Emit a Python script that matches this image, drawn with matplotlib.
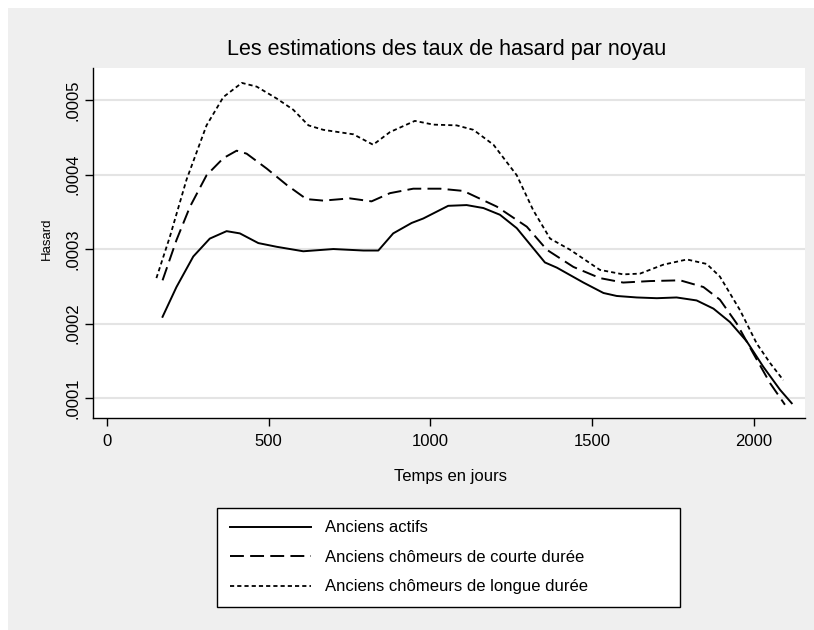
import numpy as np
import matplotlib
matplotlib.use("Agg")
import matplotlib.pyplot as plt
from matplotlib.patches import Rectangle
from matplotlib.ticker import FuncFormatter

plt.rcParams['font.family'] = ['Liberation Sans', 'DejaVu Sans']
plt.rcParams['lines.scale_dashes'] = False

# hazard estimates (x in days, y in 1e-4)
x_actifs = [172, 215, 267, 318, 370, 411, 468, 525, 607, 700, 793, 839, 885, 942, 978,
            1055, 1112, 1164, 1215, 1267, 1318, 1354, 1391, 1473, 1535, 1576, 1638, 1700,
            1761, 1823, 1875, 1926, 1978, 2029, 2081, 2117]
y_actifs = [2.09, 2.49, 2.90, 3.14, 3.24, 3.21, 3.08, 3.03, 2.97, 3.00, 2.98, 2.98, 3.21, 3.35, 3.41,
            3.58, 3.59, 3.55, 3.46, 3.28, 3.01, 2.82, 2.75, 2.55, 2.41, 2.37, 2.35, 2.34,
            2.35, 2.31, 2.20, 2.02, 1.76, 1.42, 1.11, 0.93]

x_courte = [172, 215, 257, 308, 360, 401, 432, 494, 556, 617, 669, 751, 818, 875, 947,
            1030, 1102, 1205, 1298, 1360, 1442, 1524, 1596, 1679, 1772, 1844, 1895, 1947,
            1998, 2050, 2096]
y_courte = [2.58, 3.12, 3.57, 3.99, 4.22, 4.32, 4.28, 4.08, 3.86, 3.67, 3.65, 3.68, 3.64, 3.75, 3.81,
            3.81, 3.78, 3.57, 3.30, 2.99, 2.76, 2.61, 2.55, 2.57, 2.58, 2.49, 2.32, 2.00,
            1.60, 1.20, 0.91]

x_longue = [153, 195, 246, 308, 360, 417, 463, 525, 576, 623, 669, 762, 823, 875, 952,
            1009, 1081, 1133, 1195, 1267, 1318, 1370, 1432, 1524, 1596, 1648, 1720, 1793,
            1854, 1895, 1957, 2009, 2050, 2091]
y_longue = [2.61, 3.17, 3.93, 4.66, 5.04, 5.23, 5.18, 5.02, 4.87, 4.66, 4.60, 4.54, 4.40, 4.57, 4.72,
            4.67, 4.66, 4.60, 4.40, 3.99, 3.52, 3.14, 2.99, 2.72, 2.66, 2.67, 2.79, 2.86,
            2.80, 2.63, 2.18, 1.73, 1.47, 1.24]

labels = ['Anciens actifs', 'Anciens chômeurs de courte durée', 'Anciens chômeurs de longue durée']
x_ticks = [0, 500, 1000, 1500, 2000]
y_ticks = [0.0001, 0.0002, 0.0003, 0.0004, 0.0005]

W, H = 814, 630
fig = plt.figure(figsize=(W / 100, H / 100), dpi=100, facecolor='white')
# stata-like grey graph region
fig.patches.append(Rectangle((8 / W, 0), 1, 1 - 8 / H, transform=fig.transFigure,
                             facecolor='#efefef', edgecolor='none', zorder=-10))

ax = fig.add_axes([93 / W, 1 - 418 / H, (805 - 93) / W, (418 - 68) / H])
ax.set_facecolor('white')

scale = 1e-4
ax.plot(x_actifs, np.array(y_actifs) * scale, color='black', lw=1.4, ls='-', label=labels[0])
ax.plot(x_courte, np.array(y_courte) * scale, color='black', lw=1.4, ls=(0, (10, 4.5)), label=labels[1])
ax.plot(x_longue, np.array(y_longue) * scale, color='black', lw=1.3, ls=(0, (3, 2.2)), label=labels[2])

ax.set_xlim(-43, 2158)
ax.set_ylim(0.0000732, 0.000543)
ax.set_xticks(x_ticks)
ax.set_yticks(y_ticks)
ax.yaxis.set_major_formatter(FuncFormatter(lambda v, p: f"{v:.4f}".lstrip('0')))

ax.yaxis.grid(True, color='#e4e4e4', lw=1.5)
ax.set_axisbelow(True)
for s in ['top', 'right']:
    ax.spines[s].set_visible(False)
for s in ['left', 'bottom']:
    ax.spines[s].set_color('black')
    ax.spines[s].set_linewidth(1.0)

ax.tick_params(axis='both', direction='out', length=5.8, width=1, color='black', labelsize=12)
ax.tick_params(axis='x', pad=5.5)
ax.tick_params(axis='y', pad=3.5, labelrotation=90)
for t in ax.get_yticklabels():
    t.set_va('center')

fig.text(447 / W, 1 - 50 / H, 'Les estimations des taux de hasard par noyau',
         ha='center', va='center', fontsize=15.5)
fig.text(450 / W, 1 - 476 / H, 'Temps en jours', ha='center', va='center', fontsize=12)
fig.text(47 / W, 1 - 239 / H, 'Hasard', ha='center', va='center', rotation=90, fontsize=9.5)

leg = fig.legend(loc='upper left', bbox_to_anchor=(217 / W, 1 - 508 / H, (680 - 217) / W, 0),
                 mode='expand', fontsize=12, frameon=True, fancybox=False, shadow=False,
                 handlelength=4.9, handletextpad=0.85, labelspacing=0.87, borderpad=0.75,
                 borderaxespad=0)
leg.get_frame().set_edgecolor('black')
leg.get_frame().set_linewidth(1.0)
leg.get_frame().set_facecolor('white')
leg.get_frame().set_alpha(1)

fig.savefig('out.png', dpi=100, facecolor=fig.get_facecolor())
